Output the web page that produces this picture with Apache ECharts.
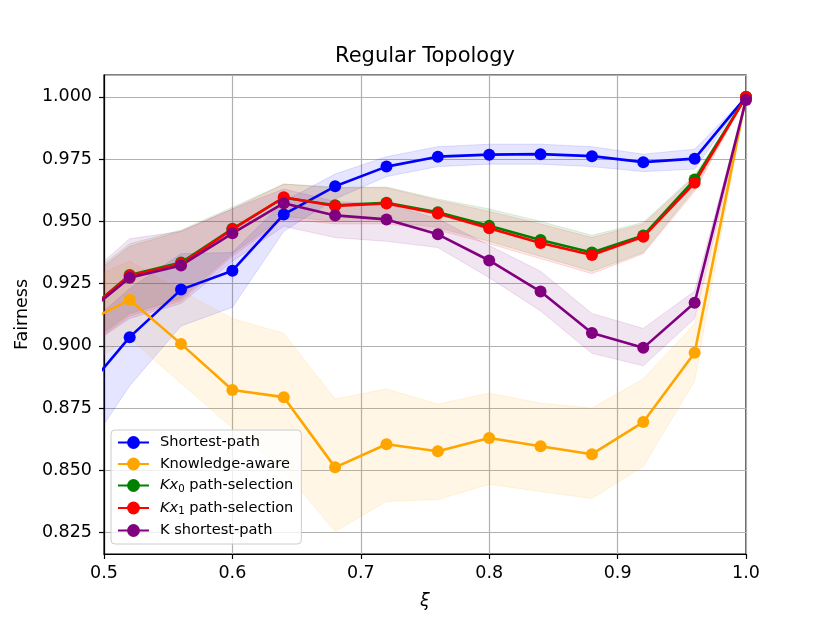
<!DOCTYPE html>
<html>
<head>
<meta charset="utf-8">
<script src="https://cdn.jsdelivr.net/npm/echarts@6/dist/echarts.min.js"></script>
<style>
  html, body { margin: 0; padding: 0; background: #fff; }
  #chart { width: 830px; height: 623px; }
</style>
</head>
<body>
<div id="chart"></div>
<script>
// xi values (first point lies just left of the visible range)
var xs = [0.48, 0.52, 0.56, 0.60, 0.64, 0.68, 0.72, 0.76, 0.80, 0.84, 0.88, 0.92, 0.96, 1.00];

var shortest   = [0.879, 0.9035, 0.9226, 0.9302, 0.9528, 0.9641, 0.9720, 0.9760, 0.9768, 0.9770, 0.9762, 0.9738, 0.9752, 1.000];
var shortestLo = [0.853, 0.884, 0.908, 0.9155, 0.946, 0.959, 0.968, 0.972, 0.973, 0.973, 0.972, 0.970, 0.971, 1.000];
var shortestHi = [0.905, 0.923, 0.937, 0.9375, 0.958, 0.969, 0.976, 0.980, 0.981, 0.981, 0.980, 0.977, 0.979, 1.000];

var knowledge   = [0.908, 0.9185, 0.9008, 0.8823, 0.8794, 0.8512, 0.8605, 0.8577, 0.8630, 0.8597, 0.8565, 0.8694, 0.8972, 1.000];
var knowledgeLo = [0.890, 0.903, 0.885, 0.867, 0.850, 0.8255, 0.8375, 0.8383, 0.8444, 0.8415, 0.8387, 0.8516, 0.8859, 1.000];
var knowledgeHi = [0.925, 0.934, 0.922, 0.911, 0.905, 0.8787, 0.8827, 0.8766, 0.8810, 0.8770, 0.8750, 0.8867, 0.9089, 1.000];

var kx0   = [0.911, 0.9285, 0.9335, 0.9470, 0.9595, 0.9565, 0.9575, 0.9537, 0.9482, 0.9425, 0.9375, 0.9443, 0.9668, 1.000];
var kx0Lo = [0.898, 0.913, 0.919, 0.937, 0.952, 0.950, 0.950, 0.9475, 0.942, 0.936, 0.930, 0.9375, 0.963, 1.000];
var kx0Hi = [0.925, 0.941, 0.9465, 0.9557, 0.965, 0.9638, 0.9638, 0.959, 0.955, 0.950, 0.9444, 0.9496, 0.9685, 1.000];

var kx1   = [0.911, 0.9282, 0.9330, 0.9468, 0.9597, 0.9562, 0.9572, 0.9532, 0.9472, 0.9413, 0.9365, 0.9438, 0.9655, 1.000];
var kx1Lo = [0.897, 0.912, 0.918, 0.936, 0.951, 0.949, 0.949, 0.9465, 0.941, 0.935, 0.929, 0.937, 0.962, 1.000];
var kx1Hi = [0.924, 0.940, 0.946, 0.955, 0.965, 0.9635, 0.9635, 0.9585, 0.954, 0.949, 0.9435, 0.949, 0.968, 1.000];

var kshort   = [0.9105, 0.9274, 0.9323, 0.9452, 0.9573, 0.9524, 0.9508, 0.9448, 0.9343, 0.9218, 0.9052, 0.8992, 0.9173, 0.9988];
var kshortLo = [0.897, 0.911, 0.917, 0.934, 0.948, 0.9435, 0.942, 0.9395, 0.9274, 0.914, 0.897, 0.892, 0.911, 0.998];
var kshortHi = [0.925, 0.943, 0.946, 0.955, 0.963, 0.958, 0.957, 0.951, 0.9403, 0.930, 0.913, 0.907, 0.922, 0.9995];

var names = ["Shortest-path", "Knowledge-aware", "Kx0 path-selection", "Kx1 path-selection", "K shortest-path"];

var FONT = "DejaVu Sans";

function pairs(ys) {
  return xs.map(function (x, i) { return [x, ys[i]]; });
}

// shaded band between lo and hi, drawn as one polygon clipped to the grid
function band(id, lo, hi, fill, edge) {
  return {
    type: "custom",
    name: id,
    silent: true,
    z: 1,
    data: [[0.75, 0.9]],
    renderItem: function (params, api) {
      var pts = [];
      for (var i = 0; i < xs.length; i++) pts.push(api.coord([xs[i], hi[i]]));
      for (var j = xs.length - 1; j >= 0; j--) pts.push(api.coord([xs[j], lo[j]]));
      var cs = params.coordSys;
      return {
        type: "polygon",
        shape: { points: pts },
        style: { fill: fill, stroke: edge, lineWidth: 1 },
        clipPath: { type: "rect", shape: { x: cs.x, y: cs.y, width: cs.width, height: cs.height } }
      };
    }
  };
}

function line(name, ys, color) {
  return {
    type: "line",
    name: name,
    data: pairs(ys),
    symbol: "circle",
    symbolSize: 12,
    showSymbol: true,
    clip: true,
    z: 3,
    color: color,
    lineStyle: { width: 2.6, color: color },
    itemStyle: { color: color }
  };
}

var chart = echarts.init(document.getElementById("chart"), null, { renderer: "canvas" });

var option = {
  backgroundColor: "#ffffff",
  animation: false,
  textStyle: { fontFamily: FONT },
  title: {
    text: "Regular Topology",
    left: 425,
    textAlign: "center",
    top: 46,
    padding: 0,
    textStyle: { fontFamily: FONT, fontSize: 21, fontWeight: "normal", color: "#000" }
  },
  grid: {
    left: 104,
    right: 84,
    top: 75,
    bottom: 69,
    show: true,
    borderColor: "#000",
    borderWidth: 1.2
  },
  legend: {
    data: names,
    orient: "vertical",
    left: 111,
    top: 430,
    padding: [5, 8, 6, 6],
    itemGap: 6.5,
    itemWidth: 31,
    itemHeight: 16,
    backgroundColor: "rgba(255,255,255,0.8)",
    borderColor: "#cccccc",
    borderWidth: 1,
    borderRadius: 4,
    formatter: function (n) {
      if (n === "Kx0 path-selection") return "{it|Kx}{sub|0} path-selection";
      if (n === "Kx1 path-selection") return "{it|Kx}{sub|1} path-selection";
      return n;
    },
    textStyle: {
      fontFamily: FONT,
      fontSize: 14.6,
      color: "#000",
      padding: [0, 0, 0, 6],
      rich: {
        it: { fontFamily: FONT, fontSize: 14.6, fontStyle: "italic", color: "#000" },
        sub: { fontFamily: FONT, fontSize: 10.2, color: "#000", padding: [7, 0, 0, 0] }
      }
    }
  },
  xAxis: {
    type: "value",
    min: 0.5,
    max: 1.0,
    interval: 0.1,
    name: "ξ",
    nameLocation: "middle",
    nameGap: 38,
    nameTextStyle: { fontFamily: FONT, fontSize: 17.5, fontStyle: "italic", color: "#000" },
    axisLine: { show: true, lineStyle: { color: "#000", width: 1.2 } },
    axisTick: { show: true, length: 5, lineStyle: { color: "#000", width: 1.2 } },
    axisLabel: {
      fontFamily: FONT, fontSize: 17.5, color: "#000", margin: 10,
      formatter: function (v) { return v.toFixed(1); }
    },
    splitLine: { show: true, lineStyle: { color: "#b0b0b0", width: 1.2 } }
  },
  yAxis: {
    type: "value",
    min: 0.8164,
    max: 1.0088,
    minInterval: 0.025,
    maxInterval: 0.025,
    name: "Fairness",
    nameLocation: "middle",
    nameGap: 72,
    nameTextStyle: { fontFamily: FONT, fontSize: 17.5, color: "#000" },
    axisLine: { show: true, lineStyle: { color: "#000", width: 1.2 } },
    axisTick: { show: true, length: 5, lineStyle: { color: "#000", width: 1.2 } },
    axisLabel: {
      fontFamily: FONT, fontSize: 17.5, color: "#000", margin: 12,
      showMinLabel: false, showMaxLabel: false,
      formatter: function (v) { return v.toFixed(3); }
    },
    splitLine: { show: true, lineStyle: { color: "#b0b0b0", width: 1.2 } }
  },
  series: [
    band("band-shortest", shortestLo, shortestHi, "rgba(0,0,255,0.1)", "rgba(0,0,255,0.12)"),
    band("band-knowledge", knowledgeLo, knowledgeHi, "rgba(255,165,0,0.1)", "rgba(255,165,0,0.12)"),
    band("band-kx0", kx0Lo, kx0Hi, "rgba(0,128,0,0.1)", "rgba(0,128,0,0.12)"),
    band("band-kx1", kx1Lo, kx1Hi, "rgba(255,0,0,0.1)", "rgba(255,0,0,0.12)"),
    band("band-kshort", kshortLo, kshortHi, "rgba(128,0,128,0.1)", "rgba(128,0,128,0.12)"),
    line(names[0], shortest, "#0000ff"),
    line(names[1], knowledge, "#ffa500"),
    line(names[2], kx0, "#008000"),
    line(names[3], kx1, "#ff0000"),
    line(names[4], kshort, "#800080")
  ]
};

chart.setOption(option);
</script>
</body>
</html>
